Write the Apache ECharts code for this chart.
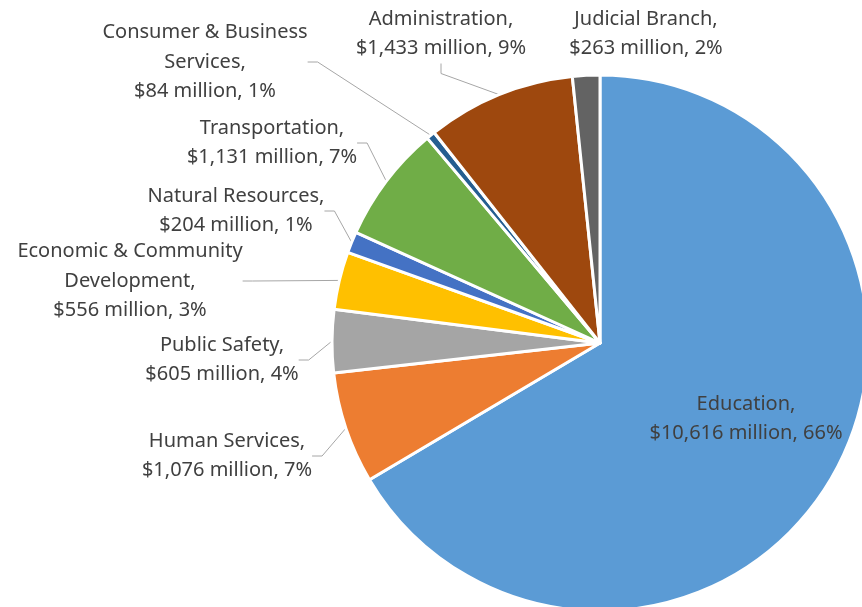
<!DOCTYPE html>
<html>
<head>
<meta charset="utf-8">
<script src="https://cdn.jsdelivr.net/npm/echarts@6/dist/echarts.min.js"></script>
<style>
  html, body { margin: 0; padding: 0; background: #ffffff; }
  #chart { width: 862px; height: 607px; }
</style>
</head>
<body>
<div id="chart"></div>
<script>
// Spending by area, millions of dollars
const categories = [
  'Education', 'Human Services', 'Public Safety',
  'Economic & Community Development', 'Natural Resources', 'Transportation',
  'Consumer & Business Services', 'Administration', 'Judicial Branch'
];
const amounts = [10616, 1076, 605, 556, 204, 1131, 84, 1433, 263];
const colors = ['#5B9BD5', '#ED7D31', '#A5A5A5', '#FFC000', '#4472C4', '#70AD47', '#255E91', '#9E480E', '#636363'];

// How each category name wraps in its label
const labelNames = [
  'Education', 'Human Services', 'Public Safety',
  'Economic & Community\nDevelopment', 'Natural Resources', 'Transportation',
  'Consumer & Business\nServices', 'Administration', 'Judicial Branch'
];

// Label block centres
const labelPos = [
  [746, 419], [227, 456], [222, 360], [130, 281], [236, 211],
  [272, 143], [205, 62], [441, 34], [646, 34]
];

const chart = echarts.init(document.getElementById('chart'), null, { renderer: 'canvas' });

const data = categories.map((name, i) => ({
  name: name,
  value: amounts[i],
  itemStyle: { color: colors[i] },
  label: { position: i === 0 ? 'inside' : 'outside' },
  labelLine: { show: i !== 0 && i !== 8 }
}));

chart.setOption({
  animation: false,
  series: [{
    type: 'pie',
    center: [600, 343],
    radius: 268,
    startAngle: 90,
    clockwise: true,
    percentPrecision: 0,
    avoidLabelOverlap: false,
    itemStyle: { borderColor: '#ffffff', borderWidth: 3 },
    label: {
      color: '#404040',
      fontFamily: '"Noto Sans", sans-serif',
      fontSize: 20,
      lineHeight: 29.5,
      align: 'center',
      formatter: function (p) {
        return labelNames[p.dataIndex] + ',\n$' + p.value.toLocaleString('en-US') +
          ' million, ' + p.percent + '%';
      }
    },
    labelLine: {
      lineStyle: { color: '#A6A6A6', width: 1 },
      length: 10,
      length2: 10
    },
    labelLayout: function (params) {
      const pos = labelPos[params.dataIndex];
      return {
        x: pos[0],
        y: pos[1],
        align: 'center',
        verticalAlign: 'middle'
      };
    },
    data: data
  }]
});
</script>
</body>
</html>
